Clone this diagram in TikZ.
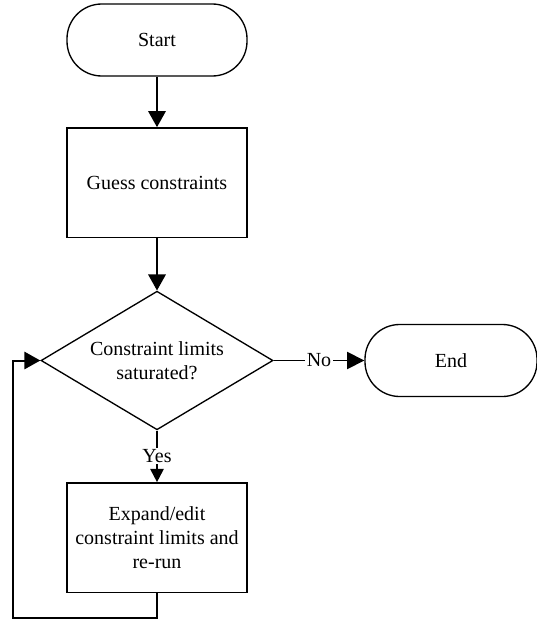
\documentclass[tikz,border=0pt]{standalone}
\usepackage{fontspec}
\setmainfont{Liberation Serif}
\usetikzlibrary{shapes.geometric,arrows.meta}

\tikzset{
  terminal/.style={draw, line width=1pt, rounded corners=26pt, minimum width=135pt, minimum height=54pt},
  process/.style={draw, line width=1pt, minimum width=135pt, minimum height=82pt, align=center},
  decision/.style={draw, line width=1pt, diamond, aspect=1.67, inner sep=0pt, minimum width=174pt, minimum height=104pt, align=center},
  flow/.style={line width=1.5pt, -{Triangle[length=12pt,width=13pt]}},
  smallflow/.style={line width=1.5pt, -{Triangle[length=10pt,width=10pt]}},
  label/.style={fill=white, inner sep=1pt}
}

\begin{document}
\begin{tikzpicture}[x=0.75pt, y=-0.75pt, font=\rmfamily\fontsize{15}{18}\selectfont]
\useasboundingbox (0,0) rectangle (536,621);

% main column
\node[terminal] (start) at (157,40) {Start};
\node[process] (guess) at (157,182.5) {Guess constraints};
\node[decision] (sat) at (157,360.5) {Constraint limits\\saturated?};
\node[process] (expand) at (157,537.5) {Expand/edit\\constraint limits and\\re-run};
\node[terminal, minimum width=129pt] (end) at (451,360.5) {End};
\coordinate (loop) at (13,618);

\draw[flow] (start) -- (guess);
\draw[flow] (guess) -- (sat);
\draw[smallflow] (sat) -- node[label] {Yes} (expand);
\draw[line width=1pt, -{Triangle[length=13pt,width=13pt]}] (sat) -- node[label] {No} (end);
% back to the decision
\draw[flow] (expand.south) |- (loop) |- (sat.west);
\end{tikzpicture}
\end{document}
